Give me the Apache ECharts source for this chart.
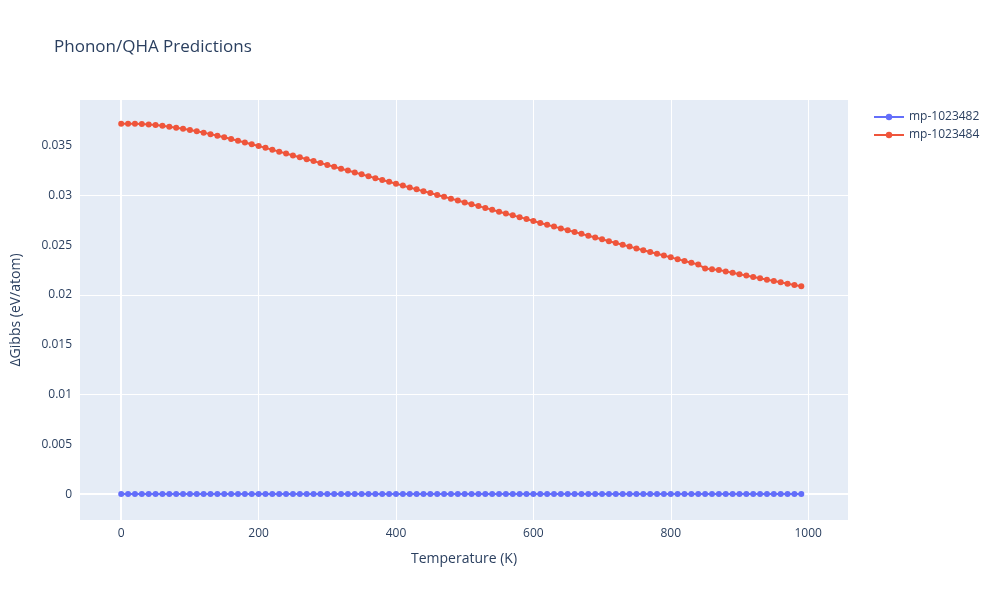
<!DOCTYPE html>
<html><head><meta charset="utf-8">
<script src="https://cdn.jsdelivr.net/npm/echarts@6/dist/echarts.min.js"></script>
<style>html,body{margin:0;padding:0;background:#fff}#c{width:1000px;height:600px}</style>
</head><body><div id="c"></div>
<script>
const temps = [];
for (let t = 0; t <= 990; t += 10) temps.push(t);
const seriesNames = ['mp-1023482', 'mp-1023484'];
const valuesA = new Array(100).fill(0);
const valuesB = [
0.03722,0.03722,0.03721,0.03719,0.03715,0.03709,0.03701,0.03692,0.03682,0.03671,
0.03659,0.03646,0.03632,0.03617,0.03601,0.03585,0.03568,0.03551,0.03533,0.03515,
0.03497,0.03479,0.03460,0.03441,0.03422,0.03403,0.03384,0.03365,0.03346,0.03327,
0.03308,0.03289,0.03270,0.03251,0.03232,0.03213,0.03194,0.03175,0.03156,0.03138,
0.03119,0.03100,0.03081,0.03062,0.03044,0.03025,0.03006,0.02987,0.02969,0.02950,
0.02931,0.02913,0.02894,0.02876,0.02857,0.02838,0.02820,0.02801,0.02783,0.02764,
0.02744,0.02725,0.02707,0.02688,0.02670,0.02651,0.02633,0.02615,0.02596,0.02578,
0.02560,0.02541,0.02523,0.02505,0.02487,0.02469,0.02451,0.02433,0.02415,0.02397,
0.02379,0.02361,0.02343,0.02325,0.02307,0.02268,0.02260,0.02251,0.02238,0.02224,
0.02210,0.02196,0.02182,0.02168,0.02155,0.02141,0.02128,0.02114,0.02101,0.02088];
const yTicks = [0,0.005,0.01,0.015,0.02,0.025,0.03,0.035];
const xTicks = [0,200,400,600,800,1000];
const colors = ['#636efa','#EF553B'];
const chart = echarts.init(document.getElementById('c'));
const txt = '#2a3f5f';
function mk(name, vals, i){
  return {name, type:'line', data: temps.map((t,k)=>[t, vals[k]]), symbol:'circle', symbolSize:6,
    showAllSymbol:true, sampling:null,
    lineStyle:{color:colors[i], width:2}, itemStyle:{color:colors[i]}, z: 5+i};
}
chart.setOption({
  animation:false,
  backgroundColor:'#fff',
  title:{text:'Phonon/QHA Predictions', left:49, top:34, textStyle:{fontFamily:'Open Sans', fontSize:17, fontWeight:'normal', color:txt}},
  legend:{orient:'vertical', left:868, top:106, itemGap:6, itemWidth:30, itemHeight:8,
    textStyle:{fontFamily:'Open Sans', fontSize:12, color:txt}, data:seriesNames},
  grid:{left:80, right:152, top:100, bottom:80, show:true, backgroundColor:'#E5ECF6', borderWidth:0},
  xAxis:{type:'value', min:-60, max:1058, name:'Temperature (K)', nameLocation:'middle', nameGap:32,
    nameTextStyle:{fontFamily:'Open Sans', fontSize:14, color:txt},
    axisLine:{show:false}, axisTick:{show:false},
    axisLabel:{customValues:xTicks, fontFamily:'Open Sans', fontSize:12, color:txt, formatter:v=>String(v)},
    splitLine:{show:false}},
  yAxis:{type:'value', min:-0.0026, max:0.0396, name:'ΔGibbs (eV/atom)', nameLocation:'middle', nameGap:57,
    nameTextStyle:{fontFamily:'Open Sans', fontSize:14, color:txt},
    axisLine:{show:false}, axisTick:{show:false},
    axisLabel:{customValues:yTicks, fontFamily:'Open Sans', fontSize:12, color:txt, formatter:v=>String(+v.toFixed(4))},
    splitLine:{show:false}},
  series:[
    {type:'line', data:[], silent:true, z:0, markLine:{silent:true, z:0, symbol:'none', label:{show:false},
      data:[...yTicks.map(v=>({yAxis:v, lineStyle:{color:'#fff', width:v===0?2:1, type:'solid'}})),
            ...xTicks.map(v=>({xAxis:v, lineStyle:{color:'#fff', width:v===0?2:1, type:'solid'}}))]}},
    mk(seriesNames[0], valuesA, 0), mk(seriesNames[1], valuesB, 1)
  ]
});
</script></body></html>
